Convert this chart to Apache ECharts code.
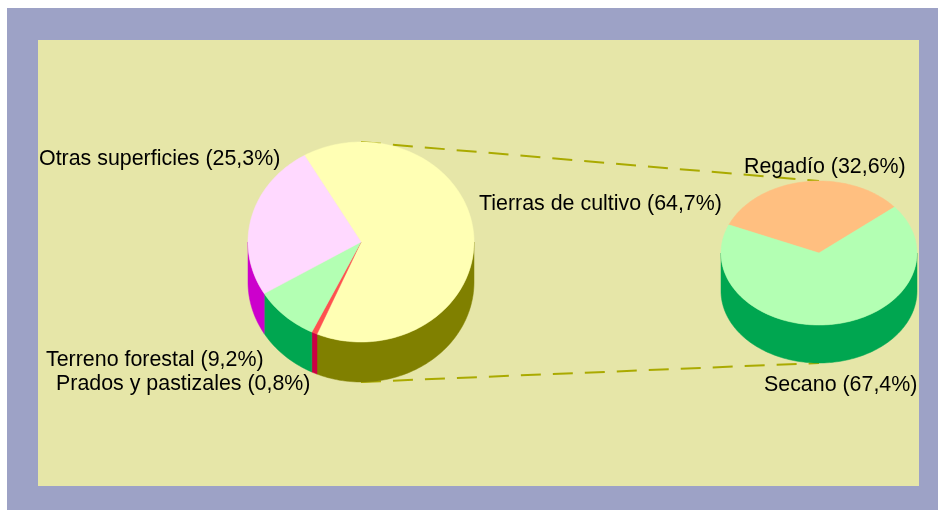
<!DOCTYPE html>
<html><head><meta charset="utf-8">
<script src="https://cdn.jsdelivr.net/npm/echarts@6/dist/echarts.min.js"></script>
<style>html,body{margin:0;padding:0;background:#fff}#c{width:938px;height:510px}</style>
</head><body><div id="c"></div>
<script>
// ---- data ----
const landCategories = ['Tierras de cultivo', 'Prados y pastizales', 'Terreno forestal', 'Otras superficies'];
const landValues = [64.7, 0.8, 9.2, 25.3];
const cropCategories = ['Regadío', 'Secano'];
const cropValues = [32.6, 67.4];

// ---- layout / style ----
const FONT = '21.4px "Liberation Sans", Arial, sans-serif';
const pieLeft = {
  cx: 361, cy: 242, rx: 113, ry: 100, depth: 40, start: 120,
  tops: ['#FFFFB4', '#FF5050', '#B3FFB3', '#FFD9FF'],
  sides: ['#808000', '#CC0044', '#00A650', '#CC00CC'],
  labels: [[479, 204], [56, 384], [46, 360], [39, 159]]
};
const pieRight = {
  cx: 819, cy: 253, rx: 98, ry: 72, depth: 38, start: 157,
  tops: ['#FFBF80', '#B3FFB3'],
  sides: ['#CC8040', '#00A650'],
  labels: [[744, 167], [764, 385]]
};

function fractions(vals) {
  const total = vals.reduce((a, b) => a + b, 0);
  let acc = 0;
  return vals.map((v, i) => { const s = acc / total; acc += v; return [s, acc / total, v]; });
}
function pt(p, deg, off) {
  const r = deg * Math.PI / 180;
  return [p.cx + p.rx * Math.cos(r), p.cy - p.ry * Math.sin(r) + off];
}
function fmt(v) { return v.toFixed(1).replace('.', ',') + '%'; }

function topRender(p, names) {
  return function (params, api) {
    const i = params.dataIndex;
    const a0 = p.start - api.value(0) * 360, a1 = p.start - api.value(1) * 360;
    const n = Math.max(2, Math.ceil((a0 - a1) / 1.5));
    const pts = [[p.cx, p.cy]];
    for (let k = 0; k <= n; k++) pts.push(pt(p, a0 - (a0 - a1) * k / n, 0));
    return {
      type: 'group', children: [
        { type: 'polygon', shape: { points: pts }, style: { fill: p.tops[i], stroke: p.tops[i], lineWidth: 0.5 } },
        { type: 'text', x: p.labels[i][0], y: p.labels[i][1],
          style: { text: names[i] + ' (' + fmt(api.value(2)) + ')', fill: '#000', font: FONT, align: 'left', verticalAlign: 'middle' } }
      ]
    };
  };
}
function sideRender(p) {
  return function (params, api) {
    const i = params.dataIndex;
    const hi = p.start - api.value(0) * 360, lo = p.start - api.value(1) * 360;
    const children = [];
    for (let k = -2; k <= 1; k++) {
      const s = Math.max(lo, 180 + 360 * k), e = Math.min(hi, 360 + 360 * k);
      if (e <= s) continue;
      const n = Math.max(2, Math.ceil((e - s) / 1.5));
      const pts = [];
      for (let j = 0; j <= n; j++) pts.push(pt(p, s + (e - s) * j / n, 0));
      for (let j = n; j >= 0; j--) pts.push(pt(p, s + (e - s) * j / n, p.depth));
      children.push({ type: 'polygon', shape: { points: pts }, style: { fill: p.sides[i], stroke: p.sides[i], lineWidth: 0.5 } });
    }
    return { type: 'group', children: children };
  };
}
function connectorRender() {
  const a = pt(pieLeft, 90, 0), b = pt(pieRight, 90, 0);
  const c = pt(pieLeft, 270, pieLeft.depth), d = pt(pieRight, 270, pieRight.depth);
  const st = { stroke: '#AAAA00', lineWidth: 2, lineDash: [20, 12], fill: null };
  return { type: 'group', children: [
    { type: 'line', shape: { x1: a[0], y1: a[1], x2: b[0], y2: b[1] }, style: st },
    { type: 'line', shape: { x1: c[0], y1: c[1], x2: d[0], y2: d[1] }, style: st }
  ] };
}

const landData = fractions(landValues);
const cropData = fractions(cropValues);

const chart = echarts.init(document.getElementById('c'), null, { renderer: 'canvas' });
chart.setOption({
  animation: false,
  backgroundColor: '#FFFFFF',
  graphic: [
    { type: 'rect', z: -10, shape: { x: 7, y: 8, width: 931, height: 502 }, style: { fill: '#9DA2C6' }, silent: true },
    { type: 'rect', z: -9, shape: { x: 38, y: 40, width: 881, height: 446 }, style: { fill: '#E6E6A8' }, silent: true }
  ],
  series: [
    { type: 'custom', coordinateSystem: 'none', silent: true, z: 1, data: [[0]], renderItem: connectorRender },
    { type: 'custom', coordinateSystem: 'none', silent: true, z: 2, data: landData, renderItem: sideRender(pieLeft) },
    { type: 'custom', coordinateSystem: 'none', silent: true, z: 3, data: landData, renderItem: topRender(pieLeft, landCategories) },
    { type: 'custom', coordinateSystem: 'none', silent: true, z: 2, data: cropData, renderItem: sideRender(pieRight) },
    { type: 'custom', coordinateSystem: 'none', silent: true, z: 3, data: cropData, renderItem: topRender(pieRight, cropCategories) }
  ]
});
</script>
</body></html>
